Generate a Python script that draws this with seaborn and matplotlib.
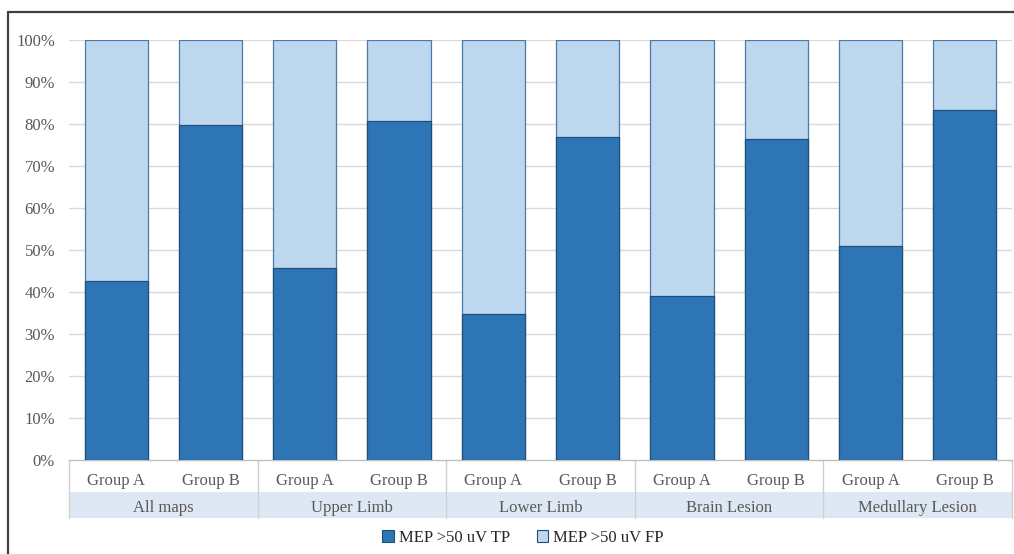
import matplotlib
matplotlib.use("Agg")
import matplotlib.pyplot as plt
import matplotlib.transforms as mtransforms
from matplotlib.patches import Rectangle, Patch
from matplotlib.lines import Line2D
import seaborn as sns
import pandas as pd

# Data: share (%) of MEP >50 uV that are true / false positives
categories = ["All maps", "Upper Limb", "Lower Limb", "Brain Lesion", "Medullary Lesion"]
groups = ["Group A", "Group B"]
tp_pct = [42.6, 79.8, 45.7, 80.7, 34.8, 76.9, 39.0, 76.4, 51.0, 83.3]
fp_pct = [57.4, 20.2, 54.3, 19.3, 65.2, 23.1, 61.0, 23.6, 49.0, 16.7]
y_ticks = [0, 10, 20, 30, 40, 50, 60, 70, 80, 90, 100]
series_names = ["MEP >50 uV TP", "MEP >50 uV FP"]

TP_COLOR = "#2E75B6"
FP_COLOR = "#BDD7EE"
EDGE = "#1F4E79"
TEXT = "#595959"
GRID = "#D9D9D9"
FS = 12

rows = []
i = 0
for cat in categories:
    for g in groups:
        rows.append({"key": f"{cat}|{g}", "category": cat, "group": g,
                     "tp": tp_pct[i], "total": tp_pct[i] + fp_pct[i]})
        i += 1
df = pd.DataFrame(rows)
order = list(df["key"])

sns.set_theme(style="white")
plt.rcParams["font.family"] = ["Liberation Serif", "DejaVu Serif"]

fig = plt.figure(figsize=(10.14, 5.54), dpi=100)
ax = fig.add_axes([69 / 1014, 1 - 460 / 554, (1012 - 69) / 1014, 420 / 554])

# stacked 100% bars: full stack in the FP colour, TP portion drawn over it
sns.barplot(data=df, x="key", y="total", order=order, color=FP_COLOR,
            width=0.67, edgecolor="#4A7AAA", linewidth=0.9, ax=ax,
            saturation=1, zorder=2)
sns.barplot(data=df, x="key", y="tp", order=order, color=TP_COLOR,
            width=0.67, edgecolor=EDGE, linewidth=0.9, ax=ax,
            saturation=1, zorder=3)

ax.set_xlim(-0.5, len(order) - 0.5)
ax.set_ylim(0, 100)
ax.set_yticks(y_ticks)
ax.set_yticklabels([f"{t}%" for t in y_ticks], color=TEXT, fontsize=FS)
ax.tick_params(axis="y", length=0, pad=10)
ax.set_xticks([])
ax.set_xlabel("")
ax.set_ylabel("")
for t in y_ticks[1:]:
    ax.axhline(t, color=GRID, lw=1.0 if t < 100 else 1.6, zorder=1)
for side in ["left", "right", "top"]:
    ax.spines[side].set_visible(False)
ax.spines["bottom"].set_color("#BFBFBF")
ax.spines["bottom"].set_linewidth(1.0)

# two-level category table under the axis
trans = mtransforms.blended_transform_factory(ax.transData, ax.transAxes)
row1_top, row2_top, row2_bot = 0.0, -32 / 420, -58 / 420
band = Rectangle((-0.5, row2_bot), len(order), row2_top - row2_bot,
                 transform=trans, facecolor="#DEE8F4", edgecolor="none",
                 clip_on=False, zorder=0)
ax.add_patch(band)
for j, key in enumerate(order):
    ax.text(j, -21 / 420, df["group"][j], transform=trans, ha="center",
            va="center", fontsize=FS, color=TEXT, clip_on=False)
n = len(groups)
for c, cat in enumerate(categories):
    ax.text(c * n + (n - 1) / 2, -48 / 420, cat, transform=trans,
            ha="center", va="center", fontsize=FS, color=TEXT, clip_on=False)
for c in range(len(categories) + 1):
    xb = c * n - 0.5
    ax.add_line(Line2D([xb, xb], [row1_top, row2_bot], transform=trans,
                       color="#D0D0D0", lw=1.0, clip_on=False))

# legend
handles = [Patch(facecolor=TP_COLOR, edgecolor=EDGE, lw=0.8),
           Patch(facecolor=FP_COLOR, edgecolor=EDGE, lw=0.8)]
fig.legend(handles, series_names, loc="center",
           bbox_to_anchor=(523 / 1014, 1 - 538 / 554), ncol=2, frameon=False,
           fontsize=FS, handlelength=0.7, handleheight=0.7,
           handletextpad=0.3, columnspacing=1.6, labelcolor="#262626")

# outer frame lines
fig.add_artist(Line2D([8 / 1014, 8 / 1014], [0, 1 - 12 / 554],
                      transform=fig.transFigure, color="#404040", lw=1.6))
fig.add_artist(Line2D([8 / 1014, 1], [1 - 12 / 554, 1 - 12 / 554],
                      transform=fig.transFigure, color="#404040", lw=1.6))

fig.savefig("out.png", dpi=100)
